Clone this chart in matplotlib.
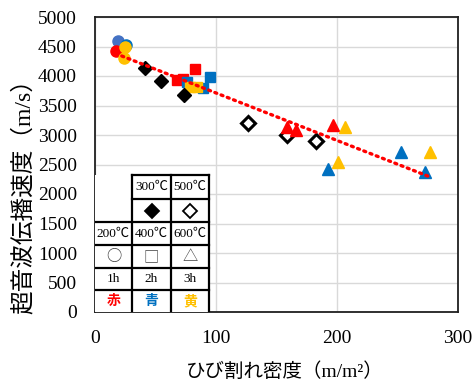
import numpy as np
import matplotlib
matplotlib.use("Agg")
import matplotlib.pyplot as plt

plt.rcParams['font.family'] = ['Liberation Serif', 'Noto Sans CJK JP', 'DejaVu Sans']

# crack density (m/m2) and ultrasonic velocity (m/s), grouped by marker/colour
circle_red_x = [17]
circle_red_y = [4430]
circle_lblue_x = [19]
circle_lblue_y = [4600]
circle_blue_x = [26]
circle_blue_y = [4530]
circle_yel_x = [25, 24]
circle_yel_y = [4490, 4305]

square_red_x = [67.5, 72.5, 83]
square_red_y = [3930, 3950, 4120]
square_blue_x = [76, 89.5, 95]
square_blue_y = [3905, 3790, 3990]
square_yel_x = [78.5, 84]
square_yel_y = [3820, 3810]

dia_fill_x = [41, 54.5, 73.5]
dia_fill_y = [4130, 3920, 3680]
dia_open_x = [126.5, 158.5, 182.5]
dia_open_y = [3200, 3000, 2890]

tri_red_x = [159, 166, 197]
tri_red_y = [3140, 3085, 3170]
tri_blue_x = [192.5, 252.5, 273]
tri_blue_y = [2425, 2705, 2375]
tri_yel_x = [201, 206.5, 276.5]
tri_yel_y = [2550, 3130, 2715]

table_rows = [["", "300℃", "500℃"],
              ["", "◆", "◇"],
              ["200℃", "400℃", "600℃"],
              ["○", "□", "△"],
              ["1h", "2h", "3h"],
              ["赤", "青", "黄"]]
word_colors = ["#FF0000", "#0070C0", "#FFC000"]

RED, BLUE, LBLUE, YEL = "#FF0000", "#0070C0", "#4472C4", "#FFC000"

fig = plt.figure(figsize=(4.74, 3.82), dpi=100)
ax = fig.add_axes([95 / 474, 70 / 382, 363 / 474, 295 / 382])

ax.set_xlim(0, 300)
ax.set_ylim(0, 5000)
ax.set_xticks([0, 100, 200, 300])
ax.set_yticks(np.arange(0, 5001, 500))
ax.grid(True, color="#D9D9D9", linewidth=1.0, zorder=0)
ax.set_axisbelow(True)
ax.tick_params(length=0, labelsize=14, pad=13)
for s in ax.spines.values():
    s.set_color("#202020")
    s.set_linewidth(1.3)

ax.set_ylabel("超音波伝播速度（m/s）", fontsize=17, va="center")
ax.yaxis.set_label_coords(-0.198, 0.41)
ax.set_xlabel("ひび割れ密度（m/m²）", fontsize=14, va="center")
ax.xaxis.set_label_coords(0.523, -0.203)

# trendline through all points
all_x = np.concatenate([circle_red_x, circle_lblue_x, circle_blue_x, circle_yel_x,
                        square_red_x, square_blue_x, square_yel_x,
                        dia_fill_x, dia_open_x, tri_red_x, tri_blue_x, tri_yel_x])
all_y = np.concatenate([circle_red_y, circle_lblue_y, circle_blue_y, circle_yel_y,
                        square_red_y, square_blue_y, square_yel_y,
                        dia_fill_y, dia_open_y, tri_red_y, tri_blue_y, tri_yel_y])
k, b = np.polyfit(all_x, all_y, 1)
tx = np.array([all_x.min(), all_x.max()])
ax.plot(tx, k * tx + b, color=RED, linewidth=2.4, linestyle=(0, (0.6, 1.4)),
        dash_capstyle="round", zorder=5)

ms = dict(linestyle="none", zorder=4)
ax.plot(circle_lblue_x, circle_lblue_y, "o", color=LBLUE, markersize=8, **ms)
ax.plot(circle_red_x, circle_red_y, "o", color=RED, markersize=8, **ms)
ax.plot(circle_blue_x, circle_blue_y, "o", color=BLUE, markersize=8, **ms)
ax.plot(circle_yel_x, circle_yel_y, "o", color=YEL, markersize=8, **ms)

ax.plot(square_red_x, square_red_y, "s", color=RED, markersize=7.5, **ms)
ax.plot(square_blue_x, square_blue_y, "s", color=BLUE, markersize=7.5, **ms)
ax.plot(square_yel_x, square_yel_y, "s", color=YEL, markersize=7.5, **ms)

ax.plot(dia_fill_x, dia_fill_y, "D", color="black", markersize=7.5, **ms)
ax.plot(dia_open_x, dia_open_y, "D", markerfacecolor="white", markeredgecolor="black",
        markeredgewidth=2.2, markersize=7.5, **ms)

ax.plot(tri_red_x, tri_red_y, "^", color=RED, markersize=8, **ms)
ax.plot(tri_blue_x, tri_blue_y, "^", color=BLUE, markersize=8, **ms)
ax.plot(tri_yel_x, tri_yel_y, "^", color=YEL, markersize=8, **ms)

# legend table in the lower-left corner (axes fraction)
col_x = [0, 0.1019, 0.2094, 0.314]
row_y = [0.4644, 0.383, 0.305, 0.227, 0.149, 0.0746, 0]
tr = ax.transAxes
ax.add_patch(plt.Rectangle((0, 0), col_x[3], row_y[0], transform=tr,
                           facecolor="white", edgecolor="none", zorder=6))
lw = 1.6
ax.plot([col_x[1], col_x[3]], [row_y[0]] * 2, transform=tr, color="black", lw=lw, zorder=7)
ax.plot([col_x[1], col_x[3]], [row_y[1]] * 2, transform=tr, color="black", lw=lw, zorder=7)
for yy in row_y[2:6]:
    ax.plot([col_x[0], col_x[3]], [yy, yy], transform=tr, color="black", lw=lw, zorder=7)
for xx in col_x[1:]:
    ax.plot([xx, xx], [0, row_y[0]], transform=tr, color="black", lw=lw, zorder=7)

for r, row in enumerate(table_rows):
    cy = (row_y[r] + row_y[r + 1]) / 2
    for c, txt in enumerate(row):
        if not txt:
            continue
        cx = (col_x[c] + col_x[c + 1]) / 2
        kw = dict(transform=tr, ha="center", va="center", zorder=8)
        if r == 1:
            ax.plot(cx, cy, "D", transform=tr, markersize=7.5, zorder=8,
                    markerfacecolor="black" if c == 1 else "white",
                    markeredgecolor="black", markeredgewidth=1.3)
        elif r == 3:
            ax.text(cx, cy, txt, fontsize=11, family=["Noto Sans CJK JP"],
                    color="#404040", **kw)
        elif r == 5:
            ax.text(cx, cy, txt, fontsize=10, fontweight="bold",
                    family=["Noto Sans CJK JP"], color=word_colors[c], **kw)
        else:
            ax.text(cx, cy, txt, fontsize=9.5, **kw)

fig.savefig("out.png", dpi=100)
